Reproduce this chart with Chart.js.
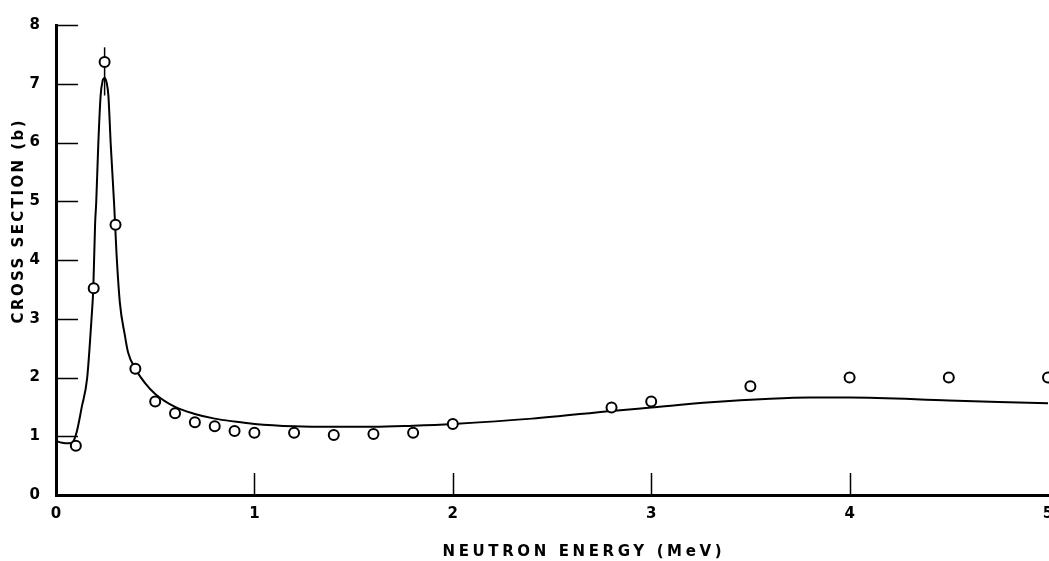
<!DOCTYPE html>
<html>
<head>
<meta charset="utf-8">
<script src="https://cdn.jsdelivr.net/npm/chart.js@4.4.1/dist/chart.umd.min.js"></script>
<style>
html, body { margin: 0; padding: 0; background: #fff; }
#wrap { width: 1049px; height: 561px; }
</style>
</head>
<body>
<div id="wrap"><canvas id="chart"></canvas></div>
<script>
// measured cross sections (open circles)
const measuredEnergy = [0.1, 0.19, 0.245, 0.3, 0.4, 0.5, 0.6, 0.7, 0.8, 0.9, 1.0, 1.2, 1.4, 1.6, 1.8, 2.0, 2.8, 3.0, 3.5, 4.0, 4.5, 5.0];
const measuredSigma  = [0.84, 3.52, 7.37, 4.6, 2.15, 1.59, 1.39, 1.24, 1.17, 1.09, 1.06, 1.06, 1.02, 1.04, 1.06, 1.21, 1.49, 1.59, 1.85, 2.0, 2.0, 2.0];

// calculated curve
const curveEnergy = [0, 0.03, 0.07, 0.09, 0.105, 0.13, 0.157, 0.179, 0.188, 0.197, 0.203, 0.213, 0.225, 0.235, 0.245, 0.255, 0.264, 0.276, 0.293, 0.305, 0.322, 0.347, 0.363, 0.4, 0.45, 0.5, 0.6, 0.7, 0.8, 0.9, 1.0, 1.2, 1.4, 1.6, 1.8, 2.0, 2.4, 2.8, 3.0, 3.3, 3.6, 3.8, 4.0, 4.5, 5.0];
const curveSigma  = [0.92, 0.89, 0.88, 0.93, 1.08, 1.5, 1.99, 3.0, 3.52, 4.61, 5.0, 5.96, 6.8, 7.05, 7.1, 7.02, 6.8, 5.96, 4.95, 4.11, 3.27, 2.72, 2.43, 2.15, 1.9, 1.72, 1.5, 1.38, 1.3, 1.25, 1.21, 1.17, 1.16, 1.16, 1.18, 1.21, 1.3, 1.43, 1.49, 1.58, 1.64, 1.66, 1.66, 1.61, 1.56];

// error bar on the peak point
const peakBarEnergy = [0.245, 0.245];
const peakBarSigma  = [6.8, 7.62];

const xTickValues = [0, 1, 2, 3, 4, 5];
const yTickValues = [0, 1, 2, 3, 4, 5, 6, 7, 8];

const xTitle = 'NEUTRON ENERGY (MeV)';
const yTitle = 'CROSS SECTION (b)';

const tickFont = 'bold 15px "DejaVu Sans"';

function toPoints(xs, ys)
{
	return xs.map((x, i) => ({ x: x, y: ys[i] }));
}

// draws text with spacing stretched to a given width
function spacedText(ctx, text, cx, cy, width)
{
	ctx.letterSpacing = '0px';
	const w0 = ctx.measureText(text).width;
	const gap = (width - w0) / (text.length - 1);
	ctx.letterSpacing = gap + 'px';
	ctx.textAlign = 'left';
	ctx.textBaseline = 'middle';
	ctx.fillText(text, cx - width / 2, cy);
}

const axisDecor = {
	id: 'axisDecor',
	afterDatasetsDraw(chart)
	{
		const ctx = chart.ctx;
		const sx = chart.scales.x;
		const sy = chart.scales.y;
		ctx.save();
		ctx.strokeStyle = '#000';
		ctx.lineWidth = 1.5;
		ctx.beginPath();
		yTickValues.forEach(v => {
			if (v === 0)
				return;
			const py = Math.round(sy.getPixelForValue(v)) + 0.5;
			ctx.moveTo(sx.left, py);
			ctx.lineTo(sx.left + 22, py);
		});
		xTickValues.forEach(v => {
			if (v === 0 || v === 5)
				return;
			const px = Math.round(sx.getPixelForValue(v)) + 0.5;
			ctx.moveTo(px, sy.bottom);
			ctx.lineTo(px, sy.bottom - 22);
		});
		ctx.stroke();

		// x tick labels, the last one runs off the edge as in the original
		ctx.fillStyle = '#000';
		ctx.font = tickFont;
		ctx.textAlign = 'center';
		ctx.textBaseline = 'top';
		xTickValues.forEach(v => {
			ctx.fillText(String(v), sx.getPixelForValue(v), sy.bottom + 12);
		});
		ctx.restore();
	},
	afterDraw(chart)
	{
		const ctx = chart.ctx;
		ctx.save();
		ctx.fillStyle = '#000';
		ctx.font = 'bold 15px "DejaVu Sans"';
		spacedText(ctx, xTitle, 582, 552, 279);
		ctx.translate(19, 222);
		ctx.rotate(-Math.PI / 2);
		spacedText(ctx, yTitle, 0, 0, 203);
		ctx.restore();
	}
};

const ctx = document.getElementById('chart').getContext('2d');
new Chart(ctx, {
	type: 'scatter',
	data: {
		datasets: [
			{
				data: toPoints(measuredEnergy, measuredSigma),
				pointRadius: 5,
				pointBorderWidth: 2,
				pointBorderColor: '#000',
				pointBackgroundColor: '#fff',
				showLine: false,
				clip: false,
				order: 0
			},
			{
				data: toPoints(curveEnergy, curveSigma),
				showLine: true,
				borderColor: '#000',
				borderWidth: 2,
				pointRadius: 0,
				cubicInterpolationMode: 'monotone',
				clip: false,
				order: 1
			},
			{
				data: toPoints(peakBarEnergy, peakBarSigma),
				showLine: true,
				borderColor: '#000',
				borderWidth: 1.5,
				pointRadius: 0,
				order: 2
			}
		]
	},
	options: {
		responsive: true,
		maintainAspectRatio: false,
		animation: false,
		layout: { autoPadding: false, padding: { top: 18, right: 1, left: 0, bottom: 0 } },
		plugins: {
			legend: { display: false },
			tooltip: { enabled: false }
		},
		scales: {
			x: {
				type: 'linear',
				min: 0,
				max: 5,
				afterBuildTicks: (scale) => { scale.ticks = xTickValues.map(v => ({ value: v })); },
				afterFit: (scale) => { scale.height = 66; },
				grid: { display: false, drawTicks: false },
				border: { display: true, color: '#000', width: 3 },
				ticks: { display: false }
			},
			y: {
				type: 'linear',
				min: 0,
				max: 8,
				afterBuildTicks: (scale) => { scale.ticks = yTickValues.map(v => ({ value: v })); },
				afterFit: (scale) => { scale.width = 56; },
				grid: { display: false, drawTicks: false },
				border: { display: true, color: '#000', width: 3 },
				ticks: {
					color: '#000',
					padding: 16,
					font: { family: 'DejaVu Sans', size: 15, weight: 'bold' }
				}
			}
		}
	},
	plugins: [axisDecor]
});
</script>
</body>
</html>
